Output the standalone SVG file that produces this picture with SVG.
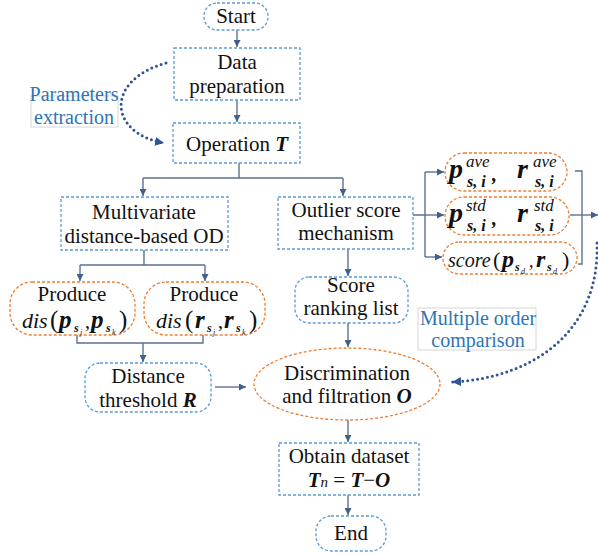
<svg xmlns="http://www.w3.org/2000/svg" width="598" height="554" viewBox="0 0 598 554">
<defs>
<marker id="ah" viewBox="0 0 10 10" refX="10" refY="5" markerWidth="7" markerHeight="7" markerUnits="userSpaceOnUse" orient="auto"><path d="M0,0 L10,5 L0,10 z" fill="#41618C"/></marker>
<marker id="ahd" viewBox="0 0 10 10" refX="10" refY="5" markerWidth="9" markerHeight="9" markerUnits="userSpaceOnUse" orient="auto"><path d="M0,0 L10,5 L0,10 z" fill="#2F5597"/></marker>
</defs>

<g id="connectors" fill="none" stroke="#5A7293" stroke-width="1.4">
<path marker-end="url(#ah)" d="M237,30 V47"/>
<path marker-end="url(#ah)" d="M237,100 V122"/>
<path d="M239,163 V178 M143,178 H343"/>
<path marker-end="url(#ah)" d="M143,178 V196"/>
<path marker-end="url(#ah)" d="M343,178 V196"/>
<path d="M144,250 V265 M80,265 H205"/>
<path marker-end="url(#ah)" d="M80,265 V281"/>
<path marker-end="url(#ah)" d="M205,265 V281"/>
<path d="M77,335 V343 H203 V335"/>
<path marker-end="url(#ah)" d="M143,343 V362"/>
<path marker-end="url(#ah)" d="M215,387 H246"/>
<path marker-end="url(#ah)" d="M348,249 V276"/>
<path marker-end="url(#ah)" d="M348,323 V347"/>
<path marker-end="url(#ah)" d="M348,420 V442"/>
<path marker-end="url(#ah)" d="M348,495 V515"/>
<path d="M413,215 H425 M425,172 V257"/>
<path marker-end="url(#ah)" d="M425,172 H444"/>
<path marker-end="url(#ah)" d="M425,215 H444"/>
<path marker-end="url(#ah)" d="M425,257 H442"/>
<path d="M575,171 H582 V264 H578"/>
<path marker-end="url(#ah)" d="M570,215 H598"/>
<path stroke="#2F5597" stroke-width="3" stroke-dasharray="0 5" stroke-linecap="round" marker-end="url(#ahd)" d="M166,63 C105,80 108,133 164,143"/>
<path stroke="#2F5597" stroke-width="3" stroke-dasharray="0 5" stroke-linecap="round" marker-end="url(#ahd)" d="M597,243 C600,330 535,378 452,382"/>
</g>

<g id="nodes" fill="#111">
<g id="start"><rect fill="#fff" stroke="#5B9BD5" stroke-width="1.3" stroke-dasharray="3 2" x="204" y="3" width="64" height="27" rx="13"/><text font-family="Liberation Serif, serif" font-size="21" text-anchor="middle" x="236" y="23">Start</text></g>
<g id="data-prep"><rect fill="#fff" stroke="#5B9BD5" stroke-width="1.3" stroke-dasharray="3 2" x="174" y="48" width="126" height="52"/><text font-family="Liberation Serif, serif" font-size="21" text-anchor="middle" x="237" y="69">Data</text><text font-family="Liberation Serif, serif" font-size="21" text-anchor="middle" x="237" y="93">preparation</text></g>
<g id="param-label"><rect fill="#fff" stroke="#D6D6D6" stroke-width="1" x="31" y="96" width="87" height="31"/><text font-family="Liberation Serif, serif" font-size="20" text-anchor="middle" fill="#2E75B6" x="74" y="101">Parameters</text><text font-family="Liberation Serif, serif" font-size="20" text-anchor="middle" fill="#2E75B6" x="74" y="124">extraction</text></g>
<g id="operation"><rect fill="#fff" stroke="#5B9BD5" stroke-width="1.3" stroke-dasharray="3 2" x="173" y="123" width="127" height="40"/><text font-family="Liberation Serif, serif" font-size="21" text-anchor="middle" x="237" y="151">Operation <tspan font-weight="bold" font-style="italic">T</tspan></text></g>
<g id="multivariate"><rect fill="#fff" stroke="#5B9BD5" stroke-width="1.3" stroke-dasharray="3 2" x="61" y="197" width="167" height="53"/><text font-family="Liberation Serif, serif" font-size="21" text-anchor="middle" x="144" y="219">Multivariate</text><text font-family="Liberation Serif, serif" font-size="21" text-anchor="middle" x="144" y="243">distance-based OD</text></g>
<g id="outlier"><rect fill="#fff" stroke="#5B9BD5" stroke-width="1.3" stroke-dasharray="3 2" x="278" y="197" width="135" height="52"/><text font-family="Liberation Serif, serif" font-size="21" text-anchor="middle" x="346" y="217">Outlier score</text><text font-family="Liberation Serif, serif" font-size="21" text-anchor="middle" x="346" y="240">mechanism</text></g>

<g id="produce-p"><rect fill="#fff" stroke="#ED7D31" stroke-width="1.3" stroke-dasharray="3 2" x="10" y="282" width="125" height="53" rx="22"/><text font-family="Liberation Serif, serif" font-size="21" text-anchor="middle" x="72" y="301">Produce</text>
<text font-family="Liberation Serif, serif" font-size="21" y="328"><tspan x="22" font-style="italic" font-size="22">dis</tspan><tspan x="50" font-size="25">(</tspan><tspan x="59" font-weight="bold" font-style="italic" font-size="25">p</tspan><tspan x="74" y="332" font-weight="bold" font-style="italic" font-size="12">s</tspan><tspan x="80" y="335" font-style="italic" font-size="8">j</tspan><tspan x="85" y="328" font-size="20">,</tspan><tspan x="91" font-weight="bold" font-style="italic" font-size="25">p</tspan><tspan x="106" y="332" font-weight="bold" font-style="italic" font-size="12">s</tspan><tspan x="112" y="335" font-style="italic" font-size="8">k</tspan><tspan x="119" y="328" font-size="25">)</tspan></text></g>
<g id="produce-r"><rect fill="#fff" stroke="#ED7D31" stroke-width="1.3" stroke-dasharray="3 2" x="144" y="282" width="121" height="53" rx="22"/><text font-family="Liberation Serif, serif" font-size="21" text-anchor="middle" x="204" y="301">Produce</text>
<text font-family="Liberation Serif, serif" font-size="21" y="328"><tspan x="156" font-style="italic" font-size="22">dis</tspan><tspan x="185" font-size="25">(</tspan><tspan x="195" font-weight="bold" font-style="italic" font-size="25">r</tspan><tspan x="207" y="332" font-weight="bold" font-style="italic" font-size="12">s</tspan><tspan x="213" y="335" font-style="italic" font-size="8">j</tspan><tspan x="218" y="328" font-size="20">,</tspan><tspan x="224" font-weight="bold" font-style="italic" font-size="25">r</tspan><tspan x="236" y="332" font-weight="bold" font-style="italic" font-size="12">s</tspan><tspan x="242" y="335" font-style="italic" font-size="8">k</tspan><tspan x="249" y="328" font-size="25">)</tspan></text></g>

<g id="distance-threshold"><rect fill="#fff" stroke="#5B9BD5" stroke-width="1.3" stroke-dasharray="3 2" x="85" y="363" width="126" height="49" rx="15"/><text font-family="Liberation Serif, serif" font-size="21" text-anchor="middle" x="148" y="383">Distance</text><text font-family="Liberation Serif, serif" font-size="21" text-anchor="middle" x="148" y="407">threshold <tspan font-weight="bold" font-style="italic">R</tspan></text></g>
<g id="score-ranking"><rect fill="#fff" stroke="#5B9BD5" stroke-width="1.3" stroke-dasharray="3 2" x="295" y="277" width="113" height="46" rx="14"/><text font-family="Liberation Serif, serif" font-size="21" text-anchor="middle" x="351" y="292">Score</text><text font-family="Liberation Serif, serif" font-size="21" text-anchor="middle" x="351" y="315">ranking list</text></g>
<g id="discrimination"><ellipse fill="#fff" stroke="#ED7D31" stroke-width="1.3" stroke-dasharray="3 2" cx="347" cy="384" rx="93" ry="36"/><text font-family="Liberation Serif, serif" font-size="21" text-anchor="middle" x="347" y="380">Discrimination</text><text font-family="Liberation Serif, serif" font-size="21" text-anchor="middle" x="347" y="403">and filtration <tspan font-weight="bold" font-style="italic">O</tspan></text></g>
<g id="multiple-label"><rect fill="#fff" stroke="#D6D6D6" stroke-width="1" x="418" y="308" width="118" height="42"/><text font-family="Liberation Serif, serif" font-size="20" text-anchor="middle" fill="#2E75B6" x="478" y="325">Multiple order</text><text font-family="Liberation Serif, serif" font-size="20" text-anchor="middle" fill="#2E75B6" x="478" y="347">comparison</text></g>
<g id="obtain"><rect fill="#fff" stroke="#5B9BD5" stroke-width="1.3" stroke-dasharray="3 2" x="279" y="443" width="140" height="52"/><text font-family="Liberation Serif, serif" font-size="21" text-anchor="middle" x="349" y="463">Obtain dataset</text><text font-family="Liberation Serif, serif" font-size="21" text-anchor="middle" x="349" y="487"><tspan font-weight="bold" font-style="italic">T</tspan><tspan font-style="italic" font-size="15">n</tspan> = <tspan font-weight="bold" font-style="italic">T</tspan>−<tspan font-weight="bold" font-style="italic">O</tspan></text></g>
<g id="end"><rect fill="#fff" stroke="#5B9BD5" stroke-width="1.3" stroke-dasharray="3 2" x="316" y="516" width="70" height="35" rx="15"/><text font-family="Liberation Serif, serif" font-size="21" text-anchor="middle" x="351" y="540">End</text></g>

<g id="ave"><rect fill="#fff" stroke="#ED7D31" stroke-width="1.3" stroke-dasharray="3 2" x="445" y="153" width="122" height="38" rx="19"/>
<text font-family="Liberation Serif, serif" font-size="21"><tspan x="449" y="178" font-weight="bold" font-style="italic" font-size="28">p</tspan><tspan x="466" y="167" font-style="italic" font-size="17">ave</tspan><tspan x="467" y="187" font-weight="bold" font-style="italic" font-size="16">s, i</tspan><tspan x="492" y="181" font-weight="bold" font-style="italic" font-size="20">,</tspan><tspan x="517" y="178" font-weight="bold" font-style="italic" font-size="28">r</tspan><tspan x="533" y="167" font-style="italic" font-size="17">ave</tspan><tspan x="535" y="187" font-weight="bold" font-style="italic" font-size="16">s, i</tspan></text></g>
<g id="std"><rect fill="#fff" stroke="#ED7D31" stroke-width="1.3" stroke-dasharray="3 2" x="445" y="197" width="124" height="38" rx="19"/>
<text font-family="Liberation Serif, serif" font-size="21"><tspan x="449" y="222" font-weight="bold" font-style="italic" font-size="28">p</tspan><tspan x="466" y="211" font-style="italic" font-size="17">std</tspan><tspan x="467" y="231" font-weight="bold" font-style="italic" font-size="16">s, i</tspan><tspan x="492" y="225" font-weight="bold" font-style="italic" font-size="20">,</tspan><tspan x="517" y="222" font-weight="bold" font-style="italic" font-size="28">r</tspan><tspan x="534" y="211" font-style="italic" font-size="17">std</tspan><tspan x="535" y="231" font-weight="bold" font-style="italic" font-size="16">s, i</tspan></text></g>
<g id="score-fn"><rect fill="#fff" stroke="#ED7D31" stroke-width="1.3" stroke-dasharray="3 2" x="443" y="242" width="134" height="32" rx="16"/>
<text font-family="Liberation Serif, serif" font-size="21" y="267"><tspan x="448" font-style="italic" font-size="20">score</tspan><tspan x="493" font-size="22">(</tspan><tspan x="502" font-weight="bold" font-style="italic" font-size="24">p</tspan><tspan x="515" y="271" font-weight="bold" font-style="italic" font-size="12">s</tspan><tspan x="521" y="274" font-style="italic" font-size="8">d</tspan><tspan x="529" y="267" font-size="18">,</tspan><tspan x="536" font-weight="bold" font-style="italic" font-size="24">r</tspan><tspan x="547" y="271" font-weight="bold" font-style="italic" font-size="12">s</tspan><tspan x="553" y="274" font-style="italic" font-size="8">d</tspan><tspan x="562" y="267" font-size="22">)</tspan></text></g>
</g>
</svg>
